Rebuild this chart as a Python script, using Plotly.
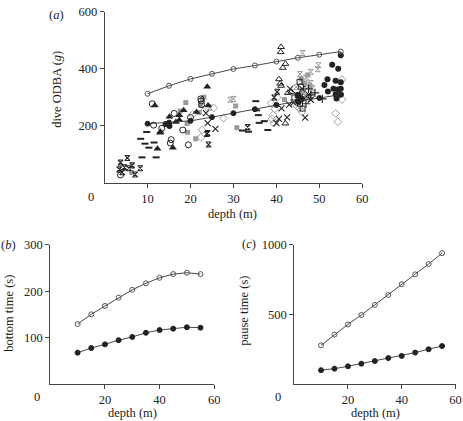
import plotly.graph_objects as go

W, H = 463, 421
FONT = "Liberation Serif"
DARK = "#222222"
GRAY = "#9a9a9a"

# ---------------- data ----------------
depths = [10, 15, 20, 25, 30, 35, 40, 45, 50, 55]

# panel (a) fitted lines
fit_open_odba = [313, 341, 365, 383, 400, 412, 426, 439, 450, 461]
fit_filled_odba = [208, 212, 218, 231, 245, 259, 274, 287, 298, 310]

# panel (a) scattered observations, by symbol group
hg_black_d = [3.7, 5.3, 4.6, 6.4, 8.3, 7.1, 3.4, 4.1, 5.6, 24.0, 24.2, 23.8, 33.3, 39.5, 40.2]
hg_black_v = [72, 88, 55, 62, 52, 30, 48, 38, 52, 175, 135, 172, 196, 300, 320]

x_black_d = [24.0, 25.8, 23.6, 40.0, 43.0, 46.7, 47.5, 40.6, 42.5, 44.0, 48.0, 45.5, 43.2, 46.0, 41.2]
x_black_v = [210, 190, 245, 210, 275, 229, 310, 225, 230, 282, 292, 300, 330, 330, 262]

dash_d = [8.4, 9.4, 9.8, 8.7, 10.3, 12.0, 11.5, 35.2, 35.4, 35.8, 36.0, 37.2, 38.0, 32.1, 33.5]
dash_v = [155, 138, 179, 90, 124, 90, 142, 287, 255, 238, 211, 217, 186, 184, 180]

tri_f_d = [11.7, 12.3, 12.9, 15.1, 15.9, 17.4, 18.4, 17.4, 21.4, 23.9, 24.1, 16.6, 13.0]
tri_f_v = [272, 120, 176, 232, 124, 238, 255, 221, 249, 338, 272, 214, 180]

sq_gray_d = [6.3, 18.9, 17.6, 19.2, 19.3, 21.2, 22.8, 22.4, 22.0, 23.1, 30.5, 30.8, 41.9, 47.3, 46.5, 47.8, 46.0, 45.8, 47.0]
sq_gray_v = [37, 282, 252, 209, 178, 155, 293, 272, 247, 301, 270, 194, 293, 379, 350, 340, 320, 365, 300]

hg_gray_d = [29.3, 30.0, 46.1, 49.8, 49.6, 45.5, 48.0, 46.9, 48.0, 48.4, 44.6, 47.2, 46.5, 47.8, 45.8, 24.5]
hg_gray_v = [292, 295, 456, 413, 399, 382, 390, 370, 351, 332, 336, 345, 320, 300, 310, 265]

dia_d = [25.4, 27.7, 22.7, 22.4, 55.3, 55.3, 53.8, 54.3, 39.2, 39.0, 39.4, 39.6, 38.8, 45.3, 46.0, 44.8, 40.2, 23.0, 20.5]
dia_v = [263, 227, 186, 160, 362, 293, 244, 215, 238, 225, 210, 260, 280, 262, 250, 270, 300, 250, 240]

tri_o_d = [41.1, 41.0, 42.1, 41.5, 40.6, 40.9, 41.1, 42.7, 42.1, 43.5]
tri_o_v = [477, 459, 418, 404, 364, 349, 341, 316, 209, 320]

sq_open_d = [45.4, 45.7, 45.0, 45.5, 46.1, 44.2]
sq_open_v = [355, 338, 307, 278, 261, 300]

cross_d = [48.0, 49.0, 46.9, 50.7, 47.5]
cross_v = [309, 316, 278, 295, 330]

circ_f_d = [14.2, 15.1, 53.0, 54.4, 55.0, 51.9, 51.2, 53.8, 55.0, 53.3, 54.3, 55.0, 52.0, 53.8, 55.0, 54.0, 45.0, 45.2, 46.0]
circ_f_v = [207, 200, 415, 401, 448, 364, 344, 359, 353, 331, 328, 331, 321, 310, 310, 296, 309, 284, 295]

circ_o_d = [3.7, 11.1, 11.4, 13.3, 16.2, 15.5, 18.2, 19.5, 22.4, 22.5, 22.6, 15.3, 20.0]
circ_o_v = [28, 278, 203, 192, 244, 152, 186, 134, 295, 288, 275, 140, 230]

# panel (b)
bottom_open = [129, 150, 168, 186, 203, 217, 229, 237, 240, 237]
bottom_filled = [67, 77, 85, 94, 101, 110, 116, 119, 122, 121]

# panel (c)
pause_open = [276, 354, 427, 495, 568, 639, 717, 788, 863, 941]
pause_filled = [97, 108, 125, 144, 163, 184, 200, 224, 248, 271]

# ---------------- figure ----------------
fig = go.Figure()


def pts(d, v, symbol, color, size=6, lw=1.0, ax=("x", "y")):
    fig.add_trace(go.Scatter(
        x=d, y=v, mode="markers", xaxis=ax[0], yaxis=ax[1], showlegend=False,
        marker=dict(symbol=symbol, size=size, color=color,
                    line=dict(color=color, width=lw)),
        cliponaxis=False))


# scatter groups (a)
pts(dia_d, dia_v, "diamond-open", "#a0a0a0", 6)
pts(hg_gray_d, hg_gray_v, "hourglass-open", GRAY, 5)
pts(sq_gray_d, sq_gray_v, "square", GRAY, 5, 0)
pts(circ_o_d, circ_o_v, "circle-open", DARK, 6)
pts(tri_o_d, tri_o_v, "triangle-up-open", DARK, 6)
pts(sq_open_d, sq_open_v, "square-open", DARK, 5)
pts(x_black_d, x_black_v, "x-thin-open", DARK, 6, 1.1)
pts(cross_d, cross_v, "cross-thin-open", DARK, 6, 1.1)
pts(hg_black_d, hg_black_v, "hourglass-open", DARK, 5, 1.1)
pts(dash_d, dash_v, "line-ew-open", DARK, 5, 2)
pts(tri_f_d, tri_f_v, "triangle-up", DARK, 7, 0)
pts(circ_f_d, circ_f_v, "circle", DARK, 6, 0)


def fitline(y, filled, ax, size=5):
    fig.add_trace(go.Scatter(
        x=depths, y=y, mode="lines+markers", xaxis=ax[0], yaxis=ax[1], showlegend=False,
        line=dict(color="#333333", width=0.9),
        marker=dict(symbol="circle" if filled else "circle-open", size=size,
                    color=DARK if filled else "#555555",
                    line=dict(color=DARK if filled else "#555555", width=1)),
        cliponaxis=False))


fitline(fit_open_odba, False, ("x", "y"))
fitline(fit_filled_odba, True, ("x", "y"))
fitline(bottom_open, False, ("x2", "y2"), 5)
fitline(bottom_filled, True, ("x2", "y2"), 5)
fitline(pause_open, False, ("x3", "y3"), 5)
fitline(pause_filled, True, ("x3", "y3"), 5)

axcommon = dict(showgrid=False, zeroline=False, showline=True, linecolor="#444444",
                linewidth=1, ticks="outside", ticklen=4, tickcolor="#444444",
                tickfont=dict(family=FONT, size=12.5, color=DARK))


def px_x(p):
    return p / W


def px_y(p):
    return 1 - p / H


fig.update_layout(
    width=W, height=H, margin=dict(l=0, r=0, t=0, b=0),
    paper_bgcolor="white", plot_bgcolor="white",
    font=dict(family=FONT, size=12, color=DARK),
    xaxis=dict(domain=[px_x(106), px_x(367)], range=[0, 60], tickvals=[10, 20, 30, 40, 50, 60],
               anchor="y", **axcommon),
    yaxis=dict(domain=[px_y(179), px_y(5)], range=[0, 600], tickvals=[200, 400, 600],
               anchor="x", **axcommon),
    xaxis2=dict(domain=[px_x(51), px_x(217)], range=[0, 60], tickvals=[20, 40, 60],
                anchor="y2", **axcommon),
    yaxis2=dict(domain=[px_y(383), px_y(242)], range=[0, 300], tickvals=[100, 200, 300],
                anchor="x2", **axcommon),
    xaxis3=dict(domain=[px_x(298), px_x(461.5)], range=[0, 60], tickvals=[20, 40, 60],
                anchor="y3", **axcommon),
    yaxis3=dict(domain=[px_y(383), px_y(242)], range=[0, 1000], tickvals=[500, 1000],
                anchor="x3", **axcommon),
)


def ann(text, x, y, size=12.5, angle=0, xanchor="center"):
    fig.add_annotation(text=text, x=px_x(x), y=px_y(y), xref="paper", yref="paper",
                       showarrow=False, textangle=angle, xanchor=xanchor, yanchor="middle",
                       font=dict(family=FONT, size=size, color=DARK))


# panel (a) texts
ann("(<i>a</i>)", 57, 8)
ann("dive ODBA (<i>g</i>)", 57, 84, angle=-90)
ann("depth (m)", 236, 210)
ann("0", 92, 193)
# panel (b) texts
ann("(<i>b</i>)", 9, 242)
ann("bottom time (s)", 9, 311, angle=-90)
ann("depth (m)", 134, 413)
ann("0", 37, 397)
# panel (c) texts
ann("(<i>c</i>)", 252, 241)
ann("pause time (s)", 247, 309, angle=-90)
ann("depth (m)", 380, 413)
ann("0", 282, 397)

fig.write_html("out.html", config={"displayModeBar": False},
               post_script="document.body.style.margin='0';")
